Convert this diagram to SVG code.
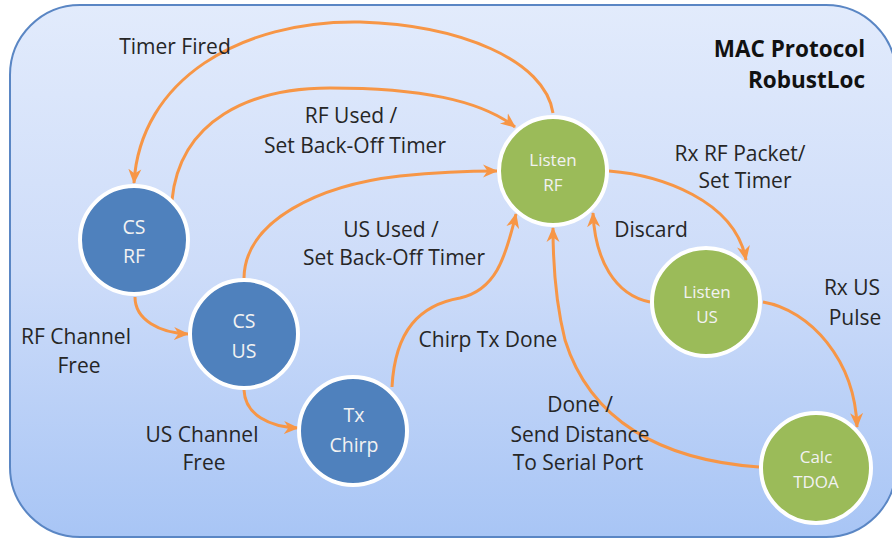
<svg xmlns="http://www.w3.org/2000/svg" width="892" height="541" viewBox="0 0 892 541">
<defs>
<linearGradient id="bg" x1="0" y1="0" x2="0" y2="1">
<stop offset="0" stop-color="#e2ebfc"/>
<stop offset="0.5" stop-color="#cddcf9"/>
<stop offset="1" stop-color="#a8c5f5"/>
</linearGradient>
<marker id="arr" markerUnits="userSpaceOnUse" markerWidth="16" markerHeight="16" viewBox="0 0 16 16" refX="14" refY="8" orient="auto">
<path d="M0,1.5 L15,8 L0,14.5 L4.5,8 z" fill="#f79646"/>
</marker>
</defs>
<style>
.edge{fill:none;stroke:#f79646;stroke-width:3;marker-end:url(#arr)}
.blue{fill:#4f81bd;stroke:#fff;stroke-width:4}
.green{fill:#9bbb59;stroke:#fff;stroke-width:4}
.nt{font-family:"Open Sans","Liberation Sans",sans-serif;fill:#f2f2f2;text-anchor:middle}
.nb{font-size:19.5px}
.ng{font-size:17px}
.lbl{font-family:"Open Sans","Liberation Sans",sans-serif;font-size:21px;fill:#262626;text-anchor:middle}
.title{font-family:"Open Sans","Liberation Sans",sans-serif;font-size:22.5px;font-weight:bold;fill:#111;text-anchor:end}
</style>
<rect x="10" y="5" width="886" height="532" rx="70" ry="70" fill="url(#bg)" stroke="#5a86c4" stroke-width="2"/>
<g id="title">
<text class="title" x="865" y="57">MAC Protocol</text>
<text class="title" x="865" y="88">RobustLoc</text>
</g>
<g id="connectors">
<path class="edge" d="M553,113 C545,60 460,25 360,22 C240,20 140,80 134,183"/>
<path class="edge" d="M172,200 C180,120 250,88 330,88 C420,88 480,100 515,127"/>
<path class="edge" d="M244,278 C245,220 320,185 400,176 C440,172 470,171 497,171"/>
<path class="edge" d="M392,387 C395,330 420,305 460,298 C495,290 505,260 516,214"/>
<path class="edge" d="M759,467 C660,460 590,420 565,340 C555,300 553,260 553,228"/>
<path class="edge" d="M609,171 C660,175 735,200 746,260"/>
<path class="edge" d="M650,302 C615,295 595,260 593,213"/>
<path class="edge" d="M763,302 C810,310 855,360 857,427"/>
<path class="edge" d="M135,297 C135,320 160,333 188,334"/>
<path class="edge" d="M244,390 C245,415 270,427 298,428"/>
</g>
<g id="labels">
<text class="lbl" x="175" y="54">Timer Fired</text>
<text class="lbl" x="351" y="123">RF Used /</text>
<text class="lbl" x="355" y="153">Set Back-Off Timer</text>
<text class="lbl" x="391" y="237">US Used /</text>
<text class="lbl" x="394" y="265">Set Back-Off Timer</text>
<text class="lbl" x="488" y="347">Chirp Tx Done</text>
<text class="lbl" x="651" y="237">Discard</text>
<text class="lbl" x="740" y="161">Rx RF Packet/</text>
<text class="lbl" x="745" y="188">Set Timer</text>
<text class="lbl" x="852" y="295">Rx US</text>
<text class="lbl" x="855" y="325">Pulse</text>
<text class="lbl" x="76" y="344">RF Channel</text>
<text class="lbl" x="79" y="373">Free</text>
<text class="lbl" x="202" y="442">US Channel</text>
<text class="lbl" x="204" y="470">Free</text>
<text class="lbl" x="580" y="412">Done /</text>
<text class="lbl" x="580" y="442">Send Distance</text>
<text class="lbl" x="578" y="470">To Serial Port</text>
</g>
<g id="cs-rf">
<circle class="blue" cx="134" cy="240" r="54"/>
<text class="nt nb" x="134" y="234">CS</text>
<text class="nt nb" x="134" y="263">RF</text>
</g>
<g id="cs-us">
<circle class="blue" cx="244" cy="334" r="54"/>
<text class="nt nb" x="244" y="328">CS</text>
<text class="nt nb" x="244" y="358">US</text>
</g>
<g id="tx-chirp">
<circle class="blue" cx="353" cy="431" r="54"/>
<text class="nt nb" x="354" y="422">Tx</text>
<text class="nt nb" x="354" y="452">Chirp</text>
</g>
<g id="listen-rf">
<circle class="green" cx="553" cy="171" r="54"/>
<text class="nt ng" x="553" y="166">Listen</text>
<text class="nt ng" x="553" y="191">RF</text>
</g>
<g id="listen-us">
<circle class="green" cx="706" cy="302" r="54"/>
<text class="nt ng" x="707" y="298">Listen</text>
<text class="nt ng" x="707" y="323">US</text>
</g>
<g id="calc-tdoa">
<circle class="green" cx="816" cy="468" r="55"/>
<text class="nt ng" x="816" y="463">Calc</text>
<text class="nt ng" x="816" y="488">TDOA</text>
</g>
</svg>
